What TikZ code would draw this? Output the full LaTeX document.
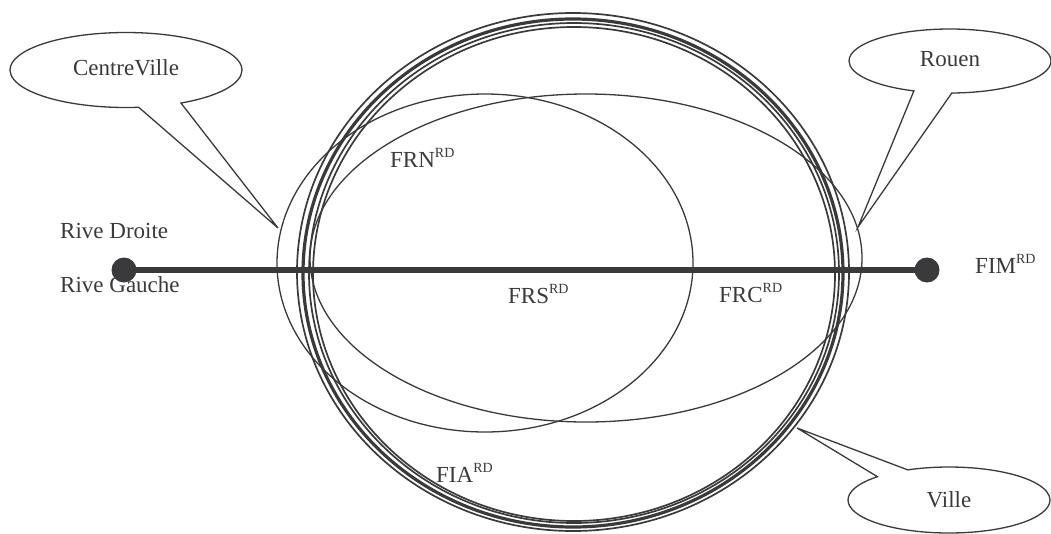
\documentclass[tikz,border=0pt]{standalone}
\usepackage{fontspec}
\setmainfont{Liberation Serif}
\usetikzlibrary{shapes.callouts}
\definecolor{dk}{HTML}{3A3A3C}
\newcommand\RDsup{\raisebox{0.42em}{\fontsize{14}{14}\selectfont RD}}
\tikzset{
  thinline/.style={draw=dk, line width=1.3pt},
  ringline/.style={draw=dk, line width=1.7pt},
  thickline/.style={draw=dk, line width=3.2pt},
  lbl/.style={inner sep=0pt, anchor=base west, text=dk, font=\fontsize{23}{27}\selectfont},
  bubble/.style={ellipse callout, draw=dk, line width=1.3pt, inner sep=0pt, text=dk,
     font=\fontsize{23}{27}\selectfont},
  dot/.style={circle, fill=dk, inner sep=0pt, minimum size=25pt}
}
\begin{document}
\begin{tikzpicture}[x=1pt,y=-1pt]
\useasboundingbox (0,0) rectangle (1051,533);
% big circle (Ville), several strokes
\coordinate (vc) at (573,272);
\draw[ringline] (vc) ellipse [x radius=276, y radius=259];
\draw[thickline] (573,273) ellipse [x radius=270, y radius=254];
\draw[ringline] (574,273) ellipse [x radius=265, y radius=250];
\draw[ringline] (574,274) ellipse [x radius=261, y radius=247];
% two overlapping ellipses
\draw[thinline] (485,263) ellipse [x radius=208, y radius=169];
\draw[thinline] (586,258) ellipse [x radius=276, y radius=164];
% river line
\node[dot] (dl) at (124,270) {};
\node[dot] (dr) at (927,270) {};
\draw[dk, line width=6pt] (dl.center) -- (dr.center);
% labels
\node[lbl] (rd) at (60,238) {Rive Droite};
\node[lbl] (rg) at (60,292) {Rive Gauche};
\node[lbl] (frn) at (390,167) {FRN\RDsup};
\node[lbl] (frs) at (508,303) {FRS\RDsup};
\node[lbl] (frc) at (719,302) {FRC\RDsup};
\node[lbl] (fim) at (975,273) {FIM\RDsup};
\node[lbl] (fia) at (436,482) {FIA\RDsup};
% callouts
\coordinate (tcv) at (278,228);
\coordinate (tro) at (858,227);
\coordinate (tvi) at (797,428);
\node[bubble, minimum width=232pt, minimum height=75pt, callout pointer arc=22,
  callout absolute pointer={(tcv)}] (cv) at (126,70) {\raisebox{4pt}{CentreVille}};
\node[bubble, minimum width=202pt, minimum height=64pt, callout pointer arc=22,
  callout absolute pointer={(tro)}] (ro) at (950,61) {\raisebox{5pt}{Rouen}};
\node[bubble, minimum width=202pt, minimum height=66pt, callout pointer arc=21,
  callout absolute pointer={(tvi)}] (vi) at (949,500) {Ville};
\end{tikzpicture}
\end{document}
